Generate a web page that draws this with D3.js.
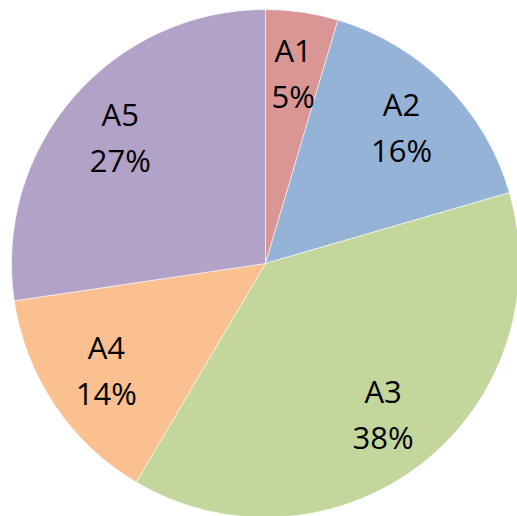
<!DOCTYPE html>
<html>
<head>
<meta charset="utf-8">
<script src="https://cdn.jsdelivr.net/npm/d3@7"></script>
<style>
  html, body { margin: 0; padding: 0; background: #fff; }
  #chart { width: 517px; height: 516px; overflow: hidden; }
</style>
</head>
<body>
<div id="chart"></div>
<script>
const categories = ['A1', 'A2', 'A3', 'A4', 'A5'];
const values = [4.6, 15.9, 38.0, 14.15, 27.35];
const colors = ['#D99694', '#95B3D7', '#C3D69B', '#FAC090', '#B3A2C7'];

const host = document.getElementById('chart');
const w = 517, h = 516;
const cx = 265.5, cy = 263.5, r = 254;

const svg = d3.select(host).append('svg').attr('width', w).attr('height', h);
const g = svg.append('g').attr('transform', `translate(${cx},${cy})`);

const data = categories.map((c, i) => ({ name: c, value: values[i], color: colors[i] }));
const total = d3.sum(values);

const pie = d3.pie().value(d => d.value).sort(null);
const arc = d3.arc().innerRadius(0).outerRadius(r);
const labelArc = d3.arc().innerRadius(r * 0.755).outerRadius(r * 0.755);

const arcs = pie(data);

g.selectAll('path')
  .data(arcs)
  .enter()
  .append('path')
  .attr('d', arc)
  .attr('fill', d => d.data.color)
  .attr('stroke', '#fff')
  .attr('stroke-width', 0.8)
  .attr('stroke-opacity', 0.7);

const fmt = v => Math.round(v / total * 100) + '%';

const labels = g.selectAll('text.lbl')
  .data(arcs)
  .enter()
  .append('text')
  .attr('class', 'lbl')
  .attr('transform', d => `translate(${labelArc.centroid(d)})`)
  .attr('text-anchor', 'middle')
  .style('font-family', '"Open Sans", "Liberation Sans", sans-serif')
  .style('font-size', '31px')
  .attr('fill', '#000');

labels.append('tspan').attr('x', 0).attr('y', -12).text(d => d.data.name);
labels.append('tspan').attr('x', 0).attr('y', 34).text(d => fmt(d.data.value));
</script>
</body>
</html>
